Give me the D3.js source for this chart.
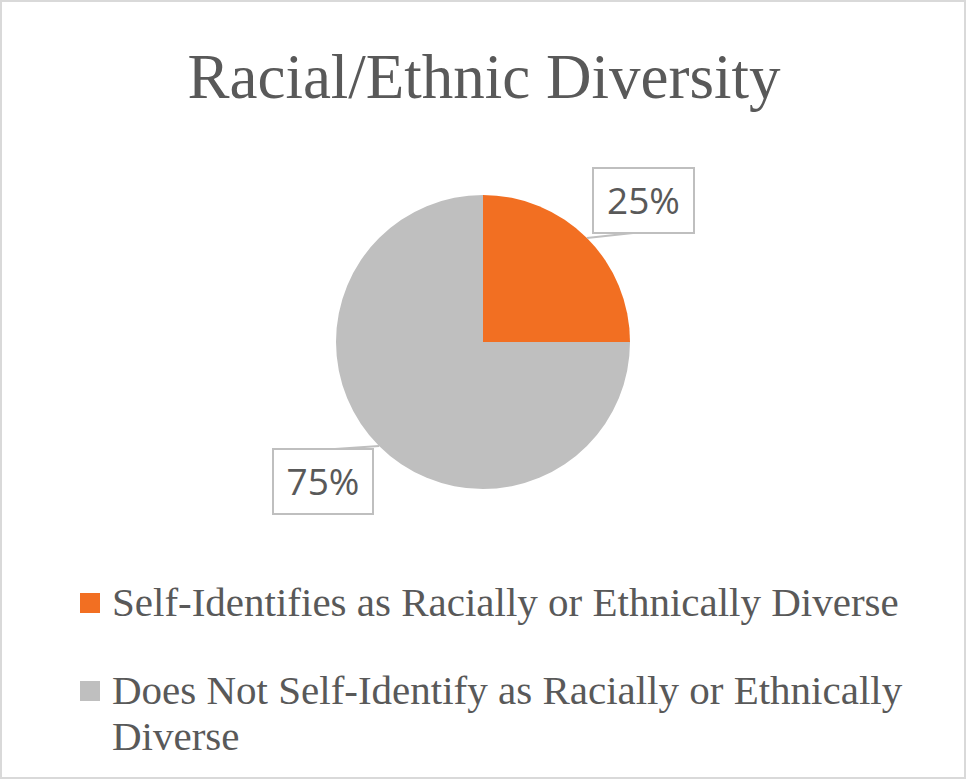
<!DOCTYPE html>
<html>
<head>
<meta charset="utf-8">
<script src="https://cdn.jsdelivr.net/npm/d3@7"></script>
<style>
  body { margin: 0; background: #fff; }
</style>
</head>
<body>
<svg width="967" height="780"></svg>
<script>
const categories = ['Self-Identifies as Racially or Ethnically Diverse', 'Does Not Self-Identify as Racially or Ethnically Diverse']
const values = [25, 75]
const labels = ['25%', '75%']
const colors = ['#f26f22', '#bfbfbf']

const svg = d3.select('svg')
const cx = 483
const cy = 342
const r = 147

// outer border
svg.append('rect')
    .attr('x', 1).attr('y', 1)
    .attr('width', 964).attr('height', 777)
    .attr('fill', '#fff')
    .attr('stroke', '#d9d9d9')
    .attr('stroke-width', 2)

svg.append('text')
    .attr('x', 484).attr('y', 98)
    .attr('text-anchor', 'middle')
    .style('font-family', 'Liberation Serif, serif')
    .style('font-size', '63px')
    .attr('fill', '#595959')
    .text('Racial/Ethnic Diversity')

const data = categories.map((c, i) => ({ name: c, value: values[i], label: labels[i], color: colors[i] }))
const pie = d3.pie().sort(null).value(d => d.value)
const arc = d3.arc().innerRadius(0).outerRadius(r)
const arcs = pie(data)

const g = svg.append('g').attr('transform', `translate(${cx},${cy})`)
g.selectAll('path')
    .data(arcs)
    .enter()
    .append('path')
    .attr('d', arc)
    .attr('fill', d => d.data.color)

// data label boxes outside the pie, with short leader lines from the slice middle
const boxes = [
    { x: 593, y: 168, w: 101, h: 65, lx: 633, ly: 233 },
    { x: 273, y: 449, w: 100, h: 65, lx: 335, ly: 449 }
]
arcs.forEach((a, i) => {
    const b = boxes[i]
    const ang = (a.startAngle + a.endAngle) / 2
    const px = cx + r * Math.sin(ang)
    const py = cy - r * Math.cos(ang)
    svg.append('line')
        .attr('x1', px).attr('y1', py)
        .attr('x2', b.lx).attr('y2', b.ly)
        .attr('stroke', '#bfbfbf').attr('stroke-width', 2)
    svg.append('rect')
        .attr('x', b.x).attr('y', b.y)
        .attr('width', b.w).attr('height', b.h)
        .attr('fill', '#fff')
        .attr('stroke', '#bfbfbf').attr('stroke-width', 2)
    svg.append('text')
        .attr('x', b.x + b.w / 2).attr('y', b.y + b.h / 2 + 13)
        .attr('text-anchor', 'middle')
        .style('font-family', 'Open Sans, sans-serif')
        .style('font-size', '37px')
        .attr('fill', '#595959')
        .text(a.data.label)
})

// legend
const legendLines = [[categories[0]], ['Does Not Self-Identify as Racially or Ethnically', 'Diverse']]
const legendY = [603, 691]
legendLines.forEach((lines, i) => {
    svg.append('rect')
        .attr('x', 80).attr('y', legendY[i] - 10)
        .attr('width', 20).attr('height', 20)
        .attr('fill', colors[i])
    const t = svg.append('text')
        .attr('x', 112).attr('y', legendY[i] + 13)
        .style('font-family', 'Liberation Serif, serif')
        .style('font-size', '41px')
        .attr('fill', '#595959')
    lines.forEach((l, j) => {
        t.append('tspan').attr('x', 112).attr('dy', j === 0 ? 0 : 46).text(l)
    })
})
</script>
</body>
</html>
